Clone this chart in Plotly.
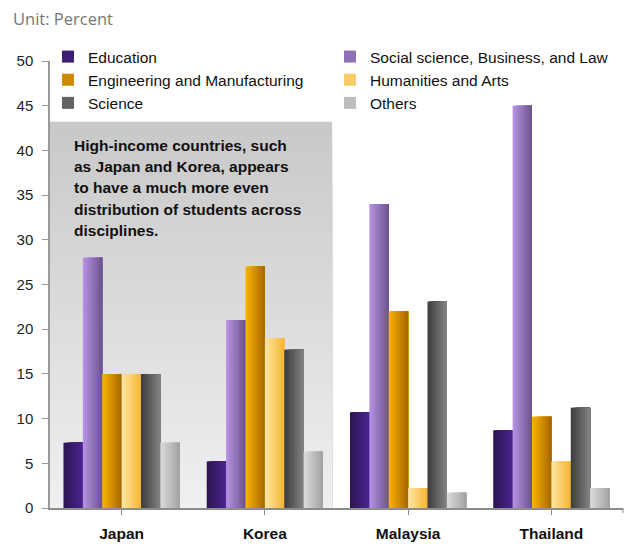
import plotly.graph_objects as go

# Share of tertiary students by field of study (percent)
countries = ["Japan", "Korea", "Malaysia", "Thailand"]
education = [7.3, 5.2, 10.7, 8.7]
social_business_law = [28.0, 21.0, 34.0, 45.0]
engineering = [15.0, 27.0, 22.0, 10.2]
humanities = [15.0, 19.0, 2.2, 5.2]
science = [15.0, 17.7, 23.1, 11.2]
others = [7.3, 6.3, 1.7, 2.2]

series_names = [
    "Education",
    "Social science, Business, and Law",
    "Engineering and Manufacturing",
    "Humanities and Arts",
    "Science",
    "Others",
]
series_values = [education, social_business_law, engineering, humanities, science, others]

# left-edge / right-edge colours of each bar's horizontal shading
series_colors = [
    ("#2a1650", "#4c2492"),
    ("#b894e4", "#6c538e"),
    ("#fcb400", "#a66800"),
    ("#ffe6a6", "#f5b630"),
    ("#3c3c3c", "#848484"),
    ("#dcdcdc", "#a2a2a2"),
]

note_lines = [
    "High-income countries, such",
    "as Japan and Korea, appears",
    "to have a much more even",
    "distribution of students across",
    "disciplines.",
]

W, H = 625, 544
M_L, M_R, M_T, M_B = 50, 2, 61, 36
PLOT_W = W - M_L - M_R
PLOT_H = H - M_T - M_B


def hex_to_rgb(h):
    h = h.lstrip("#")
    return tuple(int(h[i:i + 2], 16) for i in (0, 2, 4))


def blend(c1, c2, t):
    a, b = hex_to_rgb(c1), hex_to_rgb(c2)
    r = [round(a[k] + (b[k] - a[k]) * t) for k in range(3)]
    return "rgb(%d,%d,%d)" % tuple(r)


def px_x(px):
    return (px - M_L) / PLOT_W


def px_y(py):
    return (H - M_B - py) / PLOT_H


fig = go.Figure()

BAR_W = 0.1353
GROUP_START = -3 * BAR_W
N_SLICES = 14

for s, (name, vals, (c_left, c_right)) in enumerate(zip(series_names, series_values, series_colors)):
    left = GROUP_START + s * BAR_W
    right = left + BAR_W
    step = BAR_W / N_SLICES
    for k in range(N_SLICES):
        start = left + k * step
        fig.add_trace(go.Bar(
            x=countries,
            y=vals,
            name=name,
            showlegend=(k == N_SLICES // 2),
            offset=start,
            width=right - start,
            marker=dict(color=blend(c_left, c_right, (k + 0.5) / N_SLICES), line=dict(width=0)),
            hoverinfo="skip" if k else None,
        ))

# shaded call-out panel behind the first two groups: nested rectangles,
# tallest (darkest) first, so the vertical shading has no seams
box_top = 43.2
box_right = 1.469
n_bands = 60
for i in range(n_bands, 0, -1):
    y1 = box_top * i / n_bands
    t = (i - 0.5) / n_bands
    fig.add_shape(type="rect", xref="x", yref="y", x0=-0.5, x1=box_right, y0=0, y1=y1,
                  fillcolor=blend("#f0f0f0", "#c8c8c8", t), line=dict(width=0), layer="below")

# closing tick at the right end of the category axis
fig.add_shape(type="line", xref="paper", yref="paper", x0=1, x1=1, y0=0, y1=px_y(H - M_B + 5),
              line=dict(color="#8c8c8c", width=1))

annotations = [
    dict(text="Unit: Percent", xref="paper", yref="paper", x=px_x(11), y=px_y(18),
         xanchor="left", yanchor="middle", showarrow=False,
         font=dict(family="Open Sans", size=16.5, color="#777777")),
]
for i, line in enumerate(note_lines):
    annotations.append(dict(
        text="<b>%s</b>" % line, xref="paper", yref="paper", x=px_x(72), y=px_y(145.5 + 21.2 * i),
        xanchor="left", yanchor="middle", showarrow=False,
        font=dict(family="Liberation Sans", size=15.5, color="#111111"),
    ))

fig.update_layout(
    width=W, height=H,
    margin=dict(l=M_L, r=M_R, t=M_T, b=M_B),
    barmode="overlay",
    plot_bgcolor="white",
    paper_bgcolor="white",
    font=dict(family="Liberation Sans", size=15, color="#222222"),
    annotations=annotations,
    legend=dict(
        orientation="h", x=px_x(48), y=px_y(40), xanchor="left", yanchor="top",
        entrywidth=237, entrywidthmode="pixels",
        font=dict(family="Liberation Sans", size=15.5, color="#111111"),
        bgcolor="rgba(0,0,0,0)", itemclick=False,
    ),
    xaxis=dict(
        type="category", categoryorder="array", categoryarray=countries,
        range=[-0.5, 3.5], showgrid=False, zeroline=False,
        showline=True, linecolor="#8c8c8c", linewidth=1.5,
        ticks="outside", ticklen=5, tickcolor="#8c8c8c",
        tickfont=dict(family="Liberation Sans", size=15.5, color="#111111"),
        tickprefix="<b>", ticksuffix="</b>", ticklabelstandoff=6,
    ),
    yaxis=dict(
        range=[0, 50], dtick=5, showgrid=False, zeroline=False,
        showline=True, linecolor="#9a9a9a", linewidth=1.5,
        ticks="outside", ticklen=6, tickcolor="#9a9a9a",
        tickfont=dict(family="Liberation Sans", size=15, color="#222222"),
        ticklabelstandoff=6,
    ),
)

fig.write_html("out.html")
